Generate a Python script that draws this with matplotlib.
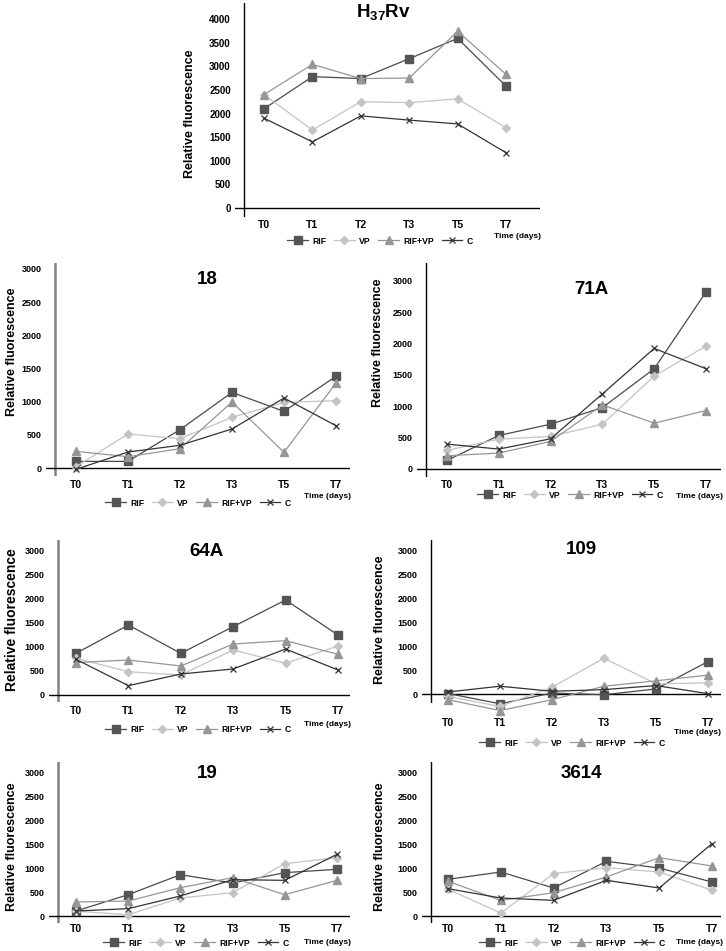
import matplotlib
matplotlib.use("Agg")
import matplotlib.pyplot as plt
from matplotlib.lines import Line2D

plt.rcParams['font.family'] = ['Liberation Sans', 'DejaVu Sans']
plt.rcParams['font.weight'] = 'bold'
plt.rcParams['mathtext.fontset'] = 'custom'
plt.rcParams['mathtext.rm'] = 'Liberation Sans'
plt.rcParams['mathtext.bf'] = 'Liberation Sans:bold'

# ---- data ----
timepoints = ["T0", "T1", "T2", "T3", "T5", "T7"]
series_names = ["RIF", "VP", "RIF+VP", "C"]
panel_titles = [r"H$_{\mathbf{37}}$Rv", "18", "71A", "64A", "109", "19", "3614"]

h37rv_rif = [2100, 2780, 2740, 3160, 3590, 2580]
h37rv_vp = [2400, 1650, 2250, 2230, 2310, 1700]
h37rv_rifvp = [2400, 3040, 2740, 2750, 3740, 2830]
h37rv_c = [1900, 1400, 1950, 1860, 1780, 1170]

s18_rif = [100, 100, 578, 1140, 854, 1382]
s18_vp = [20, 513, 442, 764, 990, 1015]
s18_rifvp = [251, 170, 291, 995, 236, 1281]
s18_c = [-20, 241, 342, 588, 1055, 638]

s71a_rif = [138, 535, 715, 980, 1600, 2825]
s71a_vp = [297, 477, 519, 715, 1484, 1961]
s71a_rifvp = [212, 254, 440, 1023, 731, 933]
s71a_c = [397, 318, 482, 1198, 1924, 1600]

s64a_rif = [868, 1458, 868, 1424, 1979, 1250]
s64a_vp = [764, 486, 417, 938, 660, 1021]
s64a_rifvp = [674, 729, 604, 1062, 1132, 847]
s64a_c = [743, 194, 438, 542, 958, 521]

s109_rif = [10, -205, 20, -15, 106, 680]
s109_vp = [-50, -262, 142, 752, 213, 234]
s109_rifvp = [-120, -348, -120, 163, 277, 397]
s109_c = [43, 163, 57, 92, 177, 7]

s19_rif = [104, 444, 861, 688, 903, 972]
s19_vp = [100, 28, 375, 486, 1090, 1215]
s19_rifvp = [292, 312, 590, 799, 444, 743]
s19_c = [104, 153, 417, 757, 743, 1285]

s3614_rif = [764, 917, 583, 1139, 1000, 708]
s3614_vp = [556, 62, 882, 1007, 917, 535]
s3614_rifvp = [722, 326, 486, 813, 1215, 1042]
s3614_c = [569, 375, 326, 743, 583, 1507]

all_series = [
    [h37rv_rif, h37rv_vp, h37rv_rifvp, h37rv_c],
    [s18_rif, s18_vp, s18_rifvp, s18_c],
    [s71a_rif, s71a_vp, s71a_rifvp, s71a_c],
    [s64a_rif, s64a_vp, s64a_rifvp, s64a_c],
    [s109_rif, s109_vp, s109_rifvp, s109_c],
    [s19_rif, s19_vp, s19_rifvp, s19_c],
    [s3614_rif, s3614_vp, s3614_rifvp, s3614_c],
]
y_maxticks = [4000, 3000, 3000, 3000, 3000, 3000, 3000]

# ---- styling ----
W, H = 726, 951
styles = [
    dict(color="#4a4a4a", mfc="#555555", mec="#555555", marker="s", ms=6.0, lw=0.9),
    dict(color="#c4c4c4", mfc="#c4c4c4", mec="#c4c4c4", marker="D", ms=4.0, lw=0.9),
    dict(color="#969696", mfc="#969696", mec="#969696", marker="^", ms=6.0, lw=0.9),
    dict(color="#333333", mfc="none", mec="#333333", marker="x", ms=5.0, lw=0.9, mew=0.9),
]

# pixel layout per panel:
# axis_x, right, y0 px, ref px (for top tick), top, bottom, T0 px, T7 px, xlabel y
layout = [
    (244, 540, 208, 19, 3, 217, 264, 506, 225),
    (55, 350, 468, 269, 263, 476, 76, 336, 485),
    (426, 721, 469, 281, 263, 477, 447, 706, 485),
    (58, 350, 695, 551, 540, 702, 76, 338, 712),
    (431, 721, 694, 551, 540, 703, 448, 708, 723),
    (58, 350, 916, 772, 762, 923, 76, 337, 929),
    (431, 721, 916, 772, 762, 923, 448, 712, 929),
]
spine_colors = ["black", "#808080", "black", "#808080", "black", "#808080", "black"]
spine_widths = [1.0, 1.8, 1.0, 1.8, 1.0, 1.8, 1.0]
title_pos = [(383, 13), (207, 279), (591, 290), (207, 551), (581, 550), (207, 774), (581, 774)]
ylabel_pos = [(190, 114), (12, 352), (378, 343), (12, 620), (380, 620), (12, 847), (380, 847)]
ylabel_size = [9, 9, 9, 10, 9, 9, 9]
legend_pos = [(380, 241), (198, 503), (570, 495), (198, 730), (572, 743), (196, 943), (572, 943)]
days_pos = [(517, 237), (327, 496), (700, 497), (327, 725), (698, 733), (327, 943), (700, 943)]

fig = plt.figure(figsize=(W / 100, H / 100), dpi=100)


def fx(px):
    return px / W


def fy(py):
    return 1 - py / H


for i, series in enumerate(all_series):
    axis_x, right, y0, yref, top, bottom, t0, t7, xlab_y = layout[i]
    left = axis_x - 9
    ax = fig.add_axes([fx(left), fy(bottom), (right - left) / W, (bottom - top) / H])

    dx = (t7 - t0) / 5.0
    ax.set_xlim((left - t0) / dx, (right - t0) / dx)
    scale = y_maxticks[i] / (y0 - yref)
    ax.set_ylim(-(bottom - y0) * scale, (y0 - top) * scale)

    for s, name, st in zip(series, series_names, styles):
        ax.plot(range(len(timepoints)), s, label=name, clip_on=False, **st)

    # y axis line and zero line
    ax.axvline((axis_x - t0) / dx, color=spine_colors[i], lw=spine_widths[i], zorder=0)
    ax.axhline(0, color="black", lw=1.0, zorder=0)
    for sp in ax.spines.values():
        sp.set_visible(False)
    ax.patch.set_alpha(0)

    ax.set_yticks(range(0, y_maxticks[i] + 1, 500))
    ax.tick_params(axis="y", length=0, pad=3, labelsize=6.5 if i else 7)
    ax.set_xticks(range(len(timepoints)), timepoints)
    pad_px = xlab_y - 5.5 - bottom
    ax.tick_params(axis="x", length=0, pad=max(pad_px, 0) * 0.72, labelsize=7.5)
    for lab in ax.get_xticklabels() + ax.get_yticklabels():
        lab.set_fontweight("bold")

    tx, ty = title_pos[i]
    fig.text(fx(tx), fy(ty), panel_titles[i], ha="center", va="center",
             fontsize=13.5, fontweight="bold")
    lx, ly = ylabel_pos[i]
    fig.text(fx(lx), fy(ly), "Relative fluorescence", rotation=90, ha="center",
             va="center", fontsize=ylabel_size[i], fontweight="bold")
    dxp, dyp = days_pos[i]
    fig.text(fx(dxp), fy(dyp), "Time (days)", ha="center", va="center",
             fontsize=6, fontweight="bold")

    handles = [Line2D([], [], **st) for st in styles]
    gx, gy = legend_pos[i]
    fig.legend(handles, series_names, loc="center", bbox_to_anchor=(fx(gx), fy(gy)),
               ncol=4, frameon=False, fontsize=6.2, handlelength=2.4,
               handletextpad=0.5, columnspacing=0.9, numpoints=1,
               prop={"weight": "bold", "size": 6.2}, borderpad=0, borderaxespad=0)

fig.savefig("out.png", dpi=100)
